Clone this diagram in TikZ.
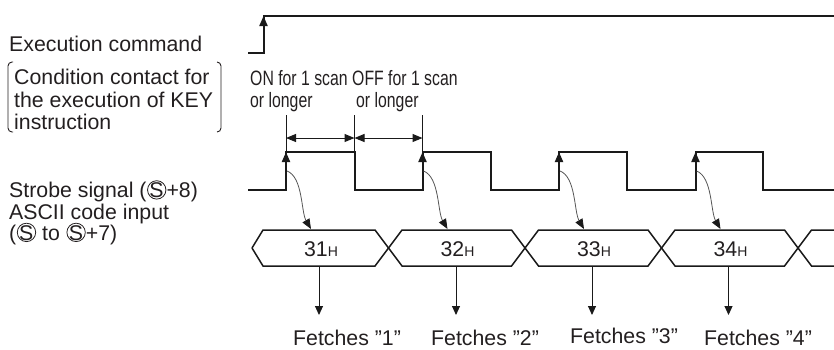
\documentclass[tikz,border=0pt]{standalone}
\usepackage{fontspec}
\setmainfont{Liberation Sans}
\newfontfamily\narrowfont[FakeStretch=0.76]{Liberation Sans}
\usetikzlibrary{arrows.meta}
\definecolor{txt}{HTML}{231F20}
\definecolor{ln}{HTML}{1A1A1A}
\definecolor{curv}{HTML}{555555}
\newcommand{\cS}{\hspace{0.6pt}\rlap{\tikz[baseline=0pt]\draw[line width=0.8pt,draw=txt] (9.4pt,7.6pt) circle[radius=9.2pt];}\makebox[18.8pt]{S}\hspace{0.6pt}}
\newcommand{\hx}[1]{#1{\fontsize{14}{16}\selectfont H}}
\begin{document}
\begin{tikzpicture}[x=1pt,y=-1pt,
  lbl/.style={font=\fontsize{21.3}{25}\selectfont, inner sep=0pt, anchor=base west, text=txt},
  nlbl/.style={font=\narrowfont\fontsize{20.8}{24}\selectfont, inner sep=0pt, anchor=base west, text=txt},
  buslbl/.style={font=\fontsize{21.3}{25}\selectfont, inner sep=0pt, anchor=base, text=txt},
  sig/.style={draw=ln, line width=2pt},
  bus/.style={draw=ln, line width=1.5pt, line join=miter},
  thin/.style={draw=ln, line width=1pt},
  edgearrow/.style={draw=ln, line width=2pt, -{Triangle[length=10pt,width=8pt]}},
  dimarrow/.style={draw=ln, line width=1pt, {Triangle[length=10pt,width=8pt]}-{Triangle[length=10pt,width=8pt]}},
  downarrow/.style={draw=ln, line width=1pt, -{Triangle[length=9pt,width=8pt]}},
  curvarrow/.style={draw=curv, line width=0.8pt, -{Triangle[length=10pt,width=8pt,color=ln]}},
  brk/.style={draw=txt, line width=0.9pt, rounded corners=4pt}
]
\useasboundingbox (0,0) rectangle (834,349);

% ---------- left labels ----------
\node[lbl] (exec) at (9,51) {Execution command};
\node[lbl] (cond1) at (14,84) {Condition contact for};
\node[lbl] (cond2) at (14,107) {the execution of KEY};
\node[lbl] (cond3) at (14,129.5) {instruction};
\draw[brk] (13,62) -- (8,62) -- (8,132) -- (13,132);
\draw[brk] (217,62) -- (221,62) -- (221,132) -- (217,132);
\node[lbl] (strobe) at (9,197.5) {Strobe signal (\cS+8)};
\node[lbl] (ascii1) at (9,219.5) {ASCII code input};
\node[lbl] (ascii2) at (9,240) {(\cS{} to \cS+7)};

% ---------- execution command ----------
\coordinate (e0) at (248,53);
\coordinate (e1) at (263.5,53);
\coordinate (e2) at (263.5,16);
\coordinate (e3) at (834,16);
\draw[sig] (e0) -- (e1) -- (e2) -- (e3);
\coordinate (e1a) at (263.5,36);
\draw[edgearrow] (e1a) -- (e2);

% ---------- strobe signal ----------
\coordinate (s0) at (248,190);
\coordinate (r1) at (286,152);   \coordinate (f1) at (354.5,152);
\coordinate (r2) at (422.5,152); \coordinate (f2) at (490.5,152);
\coordinate (r3) at (559,152);   \coordinate (f3) at (627,152);
\coordinate (r4) at (695.5,152); \coordinate (f4) at (763,152);
\coordinate (send) at (834,190);
\draw[sig] (s0) -- (r1 |- s0) -- (r1) -- (f1) -- (f1 |- s0) -- (r2 |- s0) -- (r2) -- (f2) -- (f2 |- s0)
  -- (r3 |- s0) -- (r3) -- (f3) -- (f3 |- s0) -- (r4 |- s0) -- (r4) -- (f4) -- (f4 |- s0) -- (send);
\foreach \i in {1,2,3,4}{
  \draw[edgearrow] ([yshift=-22pt]r\i) -- (r\i);
}

% ---------- dimension lines ----------
\coordinate (d1t) at (286,115);   \coordinate (d1a) at (286,138);
\coordinate (d2t) at (354.5,115); \coordinate (d2a) at (354.5,138);
\coordinate (d3t) at (422.5,115); \coordinate (d3a) at (422.5,138);
\draw[thin] (d1t) -- (r1);
\draw[thin] (d2t) -- (f1);
\draw[thin] (d3t) -- (r2);
\draw[dimarrow] (d1a) -- (d2a);
\draw[dimarrow] (d2a) -- (d3a);
\node[nlbl] (on1) at (250,85) {ON for 1 scan};
\node[nlbl] (on2) at (250,107) {or longer};
\node[nlbl] (off1) at (352,85) {OFF for 1 scan};
\node[nlbl] (off2) at (356,107) {or longer};

% ---------- ASCII bus ----------
\coordinate (b0) at (252,248);
\draw[bus] (b0) -- (263,230) -- (375,230) -- (402,266) -- (511.5,266) -- (538.5,230) -- (648,230)
  -- (675,266) -- (784.5,266) -- (811.5,230) -- (834,230);
\draw[bus] (b0) -- (263,266) -- (375,266) -- (402,230) -- (511.5,230) -- (538.5,266) -- (648,266)
  -- (675,230) -- (784.5,230) -- (811.5,266) -- (834,266);
\node[buslbl] (v1) at (321,256) {\hx{31}};
\node[buslbl] (v2) at (457.5,256) {\hx{32}};
\node[buslbl] (v3) at (594,256) {\hx{33}};
\node[buslbl] (v4) at (730.5,256) {\hx{34}};

% ---------- curved arrows strobe -> bus ----------
\foreach \i in {1,2,3,4}{
  \draw[curvarrow] ([xshift=1pt,yshift=-19pt]r\i) .. controls ([xshift=17pt,yshift=-25pt]r\i) and ([xshift=15pt,yshift=-60pt]r\i) .. ([xshift=25pt,yshift=-77pt]r\i);
}

% ---------- fetch arrows ----------
\coordinate (a1s) at (319,266); \coordinate (a1e) at (319,315);
\coordinate (a2s) at (456,266); \coordinate (a2e) at (456,315);
\coordinate (a3s) at (592,266); \coordinate (a3e) at (592,315);
\coordinate (a4s) at (728.5,266); \coordinate (a4e) at (728.5,315);
\foreach \i in {1,2,3,4}{ \draw[downarrow] (a\i s) -- (a\i e); }
\node[lbl] (fe1) at (293,345) {Fetches "1"};
\node[lbl] (fe2) at (431,345) {Fetches "2"};
\node[lbl] (fe3) at (570,343) {Fetches "3"};
\node[lbl] (fe4) at (704,345) {Fetches "4"};
\end{tikzpicture}
\end{document}
